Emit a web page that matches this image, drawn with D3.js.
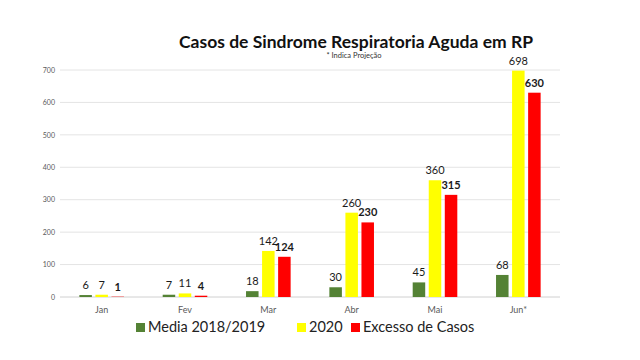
<!DOCTYPE html>
<html><head><meta charset="utf-8">
<script src="https://cdn.jsdelivr.net/npm/d3@7"></script>
<style>body{margin:0;background:#fff}</style>
</head><body>
<svg id="c" width="640" height="360"></svg>
<script>
const categories = ["Jan","Fev","Mar","Abr","Mai","Jun*"];
const seriesNames = ["Media 2018/2019","2020","Excesso de Casos"];
const media = [6,7,18,30,45,68];
const ano2020 = [7,11,142,260,360,698];
const excesso = [1,4,124,230,315,630];
const yTicks = [0,100,200,300,400,500,600,700];
const colors = ["#548235","#FFFF00","#FF0000"];

const series = [media, ano2020, excesso];
const svg = d3.select("#c");
const font = "Lato, 'Open Sans', sans-serif";
const m = {l:60, r:80, t:70, b:63};
const W = 640, H = 360;
const x0 = d3.scaleBand().domain(categories).range([m.l, W-m.r]).paddingInner(0.38).paddingOuter(0.19);
const x1 = d3.scaleBand().domain(d3.range(3)).range([0, x0.bandwidth()]).padding(0.22);
const y = d3.scaleLinear().domain([0,700]).range([H-m.b, m.t]);

// gridlines
svg.append("g").selectAll("line").data(yTicks).join("line")
  .attr("x1", m.l).attr("x2", W-m.r)
  .attr("y1", d=>y(d)).attr("y2", d=>y(d))
  .attr("stroke", d=> d===0 ? "#d0d0d0" : "#e4e4e4").attr("stroke-width",1);

// y axis
const ya = svg.append("g").attr("transform", `translate(${m.l-4},0)`)
  .call(d3.axisLeft(y).tickValues(yTicks).tickSize(0).tickPadding(1));
ya.select(".domain").remove();
ya.selectAll("text").attr("font-family", font).attr("font-size", 7).attr("fill","#595959");

// x axis
const xa = svg.append("g").attr("transform", `translate(0,${H-m.b+6})`)
  .call(d3.axisBottom(x0).tickSize(0).tickPadding(4));
xa.select(".domain").remove();
xa.selectAll("text").attr("font-family", font).attr("font-size", 9).attr("fill","#595959");

// bars
const groups = svg.append("g").selectAll("g").data(categories).join("g")
  .attr("transform", d=>`translate(${x0(d)},0)`);
groups.selectAll("rect").data((d,i)=>series.map((s,j)=>({j, v:s[i]}))).join("rect")
  .attr("x", d=>x1(d.j)).attr("width", x1.bandwidth())
  .attr("y", d=>y(d.v)).attr("height", d=>y(0)-y(d.v))
  .attr("fill", d=>colors[d.j]);
groups.selectAll("text").data((d,i)=>series.map((s,j)=>({j, v:s[i]}))).join("text")
  .attr("x", d=>x1(d.j)+x1.bandwidth()/2).attr("y", d=>y(d.v)-6)
  .attr("text-anchor","middle").attr("font-family", font).attr("font-size", 11)
  .attr("font-weight", d=>d.j===2?"bold":"normal").attr("fill","#1a1a1a")
  .text(d=>d.v);

// title
svg.append("text").attr("x", 356).attr("y", 48).attr("text-anchor","middle")
  .attr("font-family", font).attr("font-weight","bold").attr("font-size", 17.5).attr("fill","#111")
  .text("Casos de Sindrome Respiratoria Aguda em RP");
svg.append("text").attr("x", 354).attr("y", 58).attr("text-anchor","middle")
  .attr("font-family", font).attr("font-size", 7.5).attr("fill","#333")
  .text("* Indica Projeção");

// legend
const legX = [136, 297, 351];
const lg = svg.append("g").selectAll("g").data(seriesNames).join("g")
  .attr("transform", (d,i)=>`translate(${legX[i]},327)`);
lg.append("rect").attr("x",0).attr("y",-4).attr("width",9).attr("height",9).attr("fill",(d,i)=>colors[i]);
lg.append("text").attr("x",12).attr("y",5).attr("font-family", font).attr("font-size",14.5).attr("fill","#222").text(d=>d);
</script>
</body></html>
